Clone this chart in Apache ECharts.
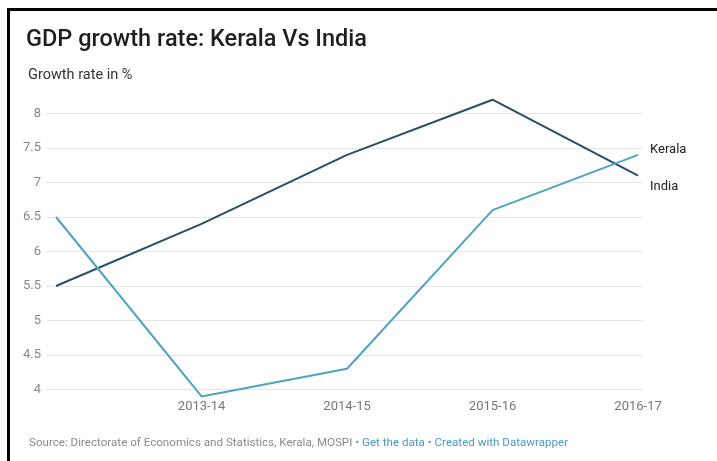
<!DOCTYPE html>
<html>
<head>
<meta charset="utf-8">
<script src="https://cdn.jsdelivr.net/npm/echarts@6/dist/echarts.min.js"></script>
<style>
html,body{margin:0;padding:0;background:#fff;}
#chart{width:717px;height:461px;}
</style>
</head>
<body>
<div id="chart"></div>
<script>
const categories = ['2012-13', '2013-14', '2014-15', '2015-16', '2016-17'];
const india = [5.5, 6.4, 7.4, 8.2, 7.1];
const kerala = [6.5, 3.9, 4.3, 6.6, 7.4];
const yTicks = [4, 4.5, 5, 5.5, 6, 6.5, 7, 7.5, 8];
const xLabelIdx = [1, 2, 3, 4];

const toPairs = arr => arr.map((v, i) => [i, v]);
const chart = echarts.init(document.getElementById('chart'), null, {renderer: 'canvas'});
const font = 'Roboto, "Noto Sans", sans-serif';

chart.setOption({
  animation: false,
  backgroundColor: '#fff',
  title: [
    {text: 'GDP growth rate: Kerala Vs India', left: 21, top: 23,
     textStyle: {fontFamily: font, fontSize: 23.5, fontWeight: 500, color: '#1e1e1e'}},
    {text: 'Growth rate in %', left: 23, top: 63,
     textStyle: {fontFamily: font, fontSize: 14.5, fontWeight: 400, color: '#333'}},
    {text: '{s|Source: Directorate of Economics and Statistics, Kerala, MOSPI • }{l|Get the data}{s| • }{l|Created with Datawrapper}',
     left: 24, top: 432,
     textStyle: {fontFamily: font, fontSize: 11.6, fontWeight: 'normal', rich: {
       s: {fontFamily: font, fontSize: 11.6, fontWeight: 'normal', color: '#8a8a8a'},
       l: {fontFamily: font, fontSize: 11.6, fontWeight: 'normal', color: '#4a9bbd'}
     }}}
  ],
  graphic: [
    {type: 'rect', left: 8, top: 8, shape: {width: 709, height: 3}, style: {fill: '#000'}},
    {type: 'rect', left: 7, top: 8, shape: {width: 3, height: 453}, style: {fill: '#000'}}
  ],
  grid: {left: 46, right: 74, top: 113.5, bottom: 71.5, containLabel: false},
  xAxis: {
    type: 'value', min: -0.069, max: 4.034,
    axisLine: {show: false}, axisTick: {show: false}, splitLine: {show: false},
    axisLabel: {customValues: xLabelIdx, formatter: v => categories[v] || '',
      fontFamily: font, fontSize: 13, color: '#777', margin: 11}
  },
  yAxis: {
    type: 'value', min: 4, max: 8, interval: 0.5,
    axisLine: {show: false}, axisTick: {show: false},
    splitLine: {lineStyle: {color: '#e6e6e6', width: 1}},
    axisLabel: {fontFamily: font, fontSize: 13, color: '#888', margin: 5,
      formatter: v => (yTicks.indexOf(v) >= 0 ? String(v) : '')}
  },
  series: [
    {name: 'India', type: 'line', data: toPairs(india), clip: false, symbol: 'none',
     lineStyle: {color: '#264f6b', width: 2},
     endLabel: {show: true, formatter: 'India', offset: [4, 11],
       fontFamily: font, fontSize: 13, color: '#222'}},
    {name: 'Kerala', type: 'line', data: toPairs(kerala), clip: false, symbol: 'none',
     lineStyle: {color: '#4ea3c2', width: 2},
     endLabel: {show: true, formatter: 'Kerala', offset: [4, -5],
       fontFamily: font, fontSize: 13, color: '#222'}}
  ]
});
</script>
</body>
</html>
